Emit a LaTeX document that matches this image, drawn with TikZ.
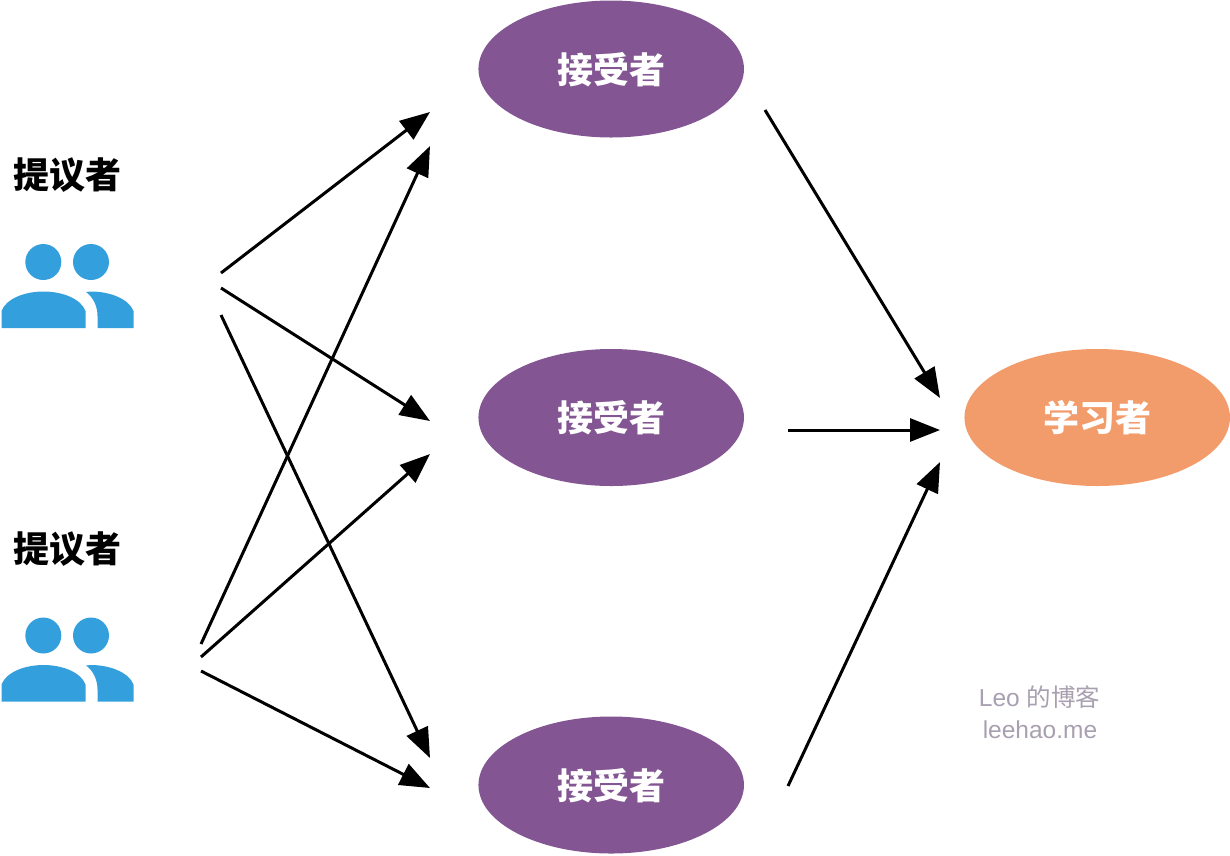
\documentclass[tikz,border=0pt]{standalone}
\usepackage{fontspec}
\setmainfont{Liberation Sans}
\newfontfamily\cjk{Noto Sans CJK SC}
\usetikzlibrary{arrows.meta,shapes.geometric}
\definecolor{purp}{HTML}{835693}
\definecolor{orng}{HTML}{F39C6B}
\definecolor{blu}{HTML}{349FDD}
\definecolor{wm}{HTML}{A8A0B0}
\tikzset{
  x=1pt,y=-1pt,
  role/.style={ellipse,minimum width=265.5pt,minimum height=137pt,inner sep=0pt,text=white,text height=33pt,text depth=5pt,font=\cjk\bfseries\fontsize{36}{36}\selectfont},
  acceptor/.style={role,fill=purp},
  learner/.style={role,fill=orng},
  proposer/.style={inner sep=0pt,font=\cjk\bfseries\fontsize{36}{36}\selectfont,text=black},
  mark text/.style={inner sep=0pt,text=wm,font=\fontsize{24.5}{24.5}\selectfont},
  flow/.style={draw=black,line width=3pt,-{Triangle[length=30pt,width=23pt]}},
  person/.style={fill=blu,draw=none},
}
\newcommand{\peopleicon}[1]{%
  \begin{scope}[yshift=-#1pt]
    \fill[person] (43.3,262) circle[radius=18];
    \fill[person] (91,262) circle[radius=18];
    \fill[person] (1.5,328) -- (1.5,311) .. controls (6,299) and (24,291.5) .. (43.5,291.5)
      .. controls (63,291.5) and (81,299) .. (85.5,311) -- (85.5,328) -- cycle;
    \fill[person] (86,292) -- (91,291.5) .. controls (110,291.5) and (129,299) .. (133.5,311)
      -- (133.5,328) -- (97.5,328) -- (97.5,316) .. controls (97.5,306) and (93,297) .. (86,292) -- cycle;
  \end{scope}}
\begin{document}
\begin{tikzpicture}
\useasboundingbox (0,0) rectangle (1230,855);
\node[acceptor] (a1) at (611.2,69) {接受者};
\node[acceptor] (a2) at (611.2,417.5) {接受者};
\node[acceptor] (a3) at (611.2,785) {接受者};
\node[learner] (l) at (1097.2,417.5) {学习者};
\node[proposer] (p1) at (67,175) {提议者};
\node[proposer] (p2) at (67,549) {提议者};
\peopleicon{0}
\peopleicon{373.5}
\node[mark text] (m1) at (1039.5,697) {Leo {\cjk 的博客}};
\node[mark text] (m2) at (1040,730) {leehao.me};
\coordinate (s1) at (221,273);
\coordinate (s2) at (221,288);
\coordinate (s3) at (221,315);
\coordinate (s4) at (201,644);
\coordinate (s5) at (201,657);
\coordinate (s6) at (201,671);
\coordinate (t1) at (430,112);
\coordinate (t2) at (430,421);
\coordinate (t3) at (430,758);
\coordinate (t4) at (430,146);
\coordinate (t5) at (430,454);
\coordinate (t6) at (430,788);
\coordinate (s7) at (765,110);
\coordinate (s8) at (788,430);
\coordinate (s9) at (788,786);
\coordinate (t7) at (940,398);
\coordinate (t8) at (940,430);
\coordinate (t9) at (940,462);
\foreach \i in {1,...,9} {\draw[flow] (s\i) -- (t\i);}
\end{tikzpicture}
\end{document}
